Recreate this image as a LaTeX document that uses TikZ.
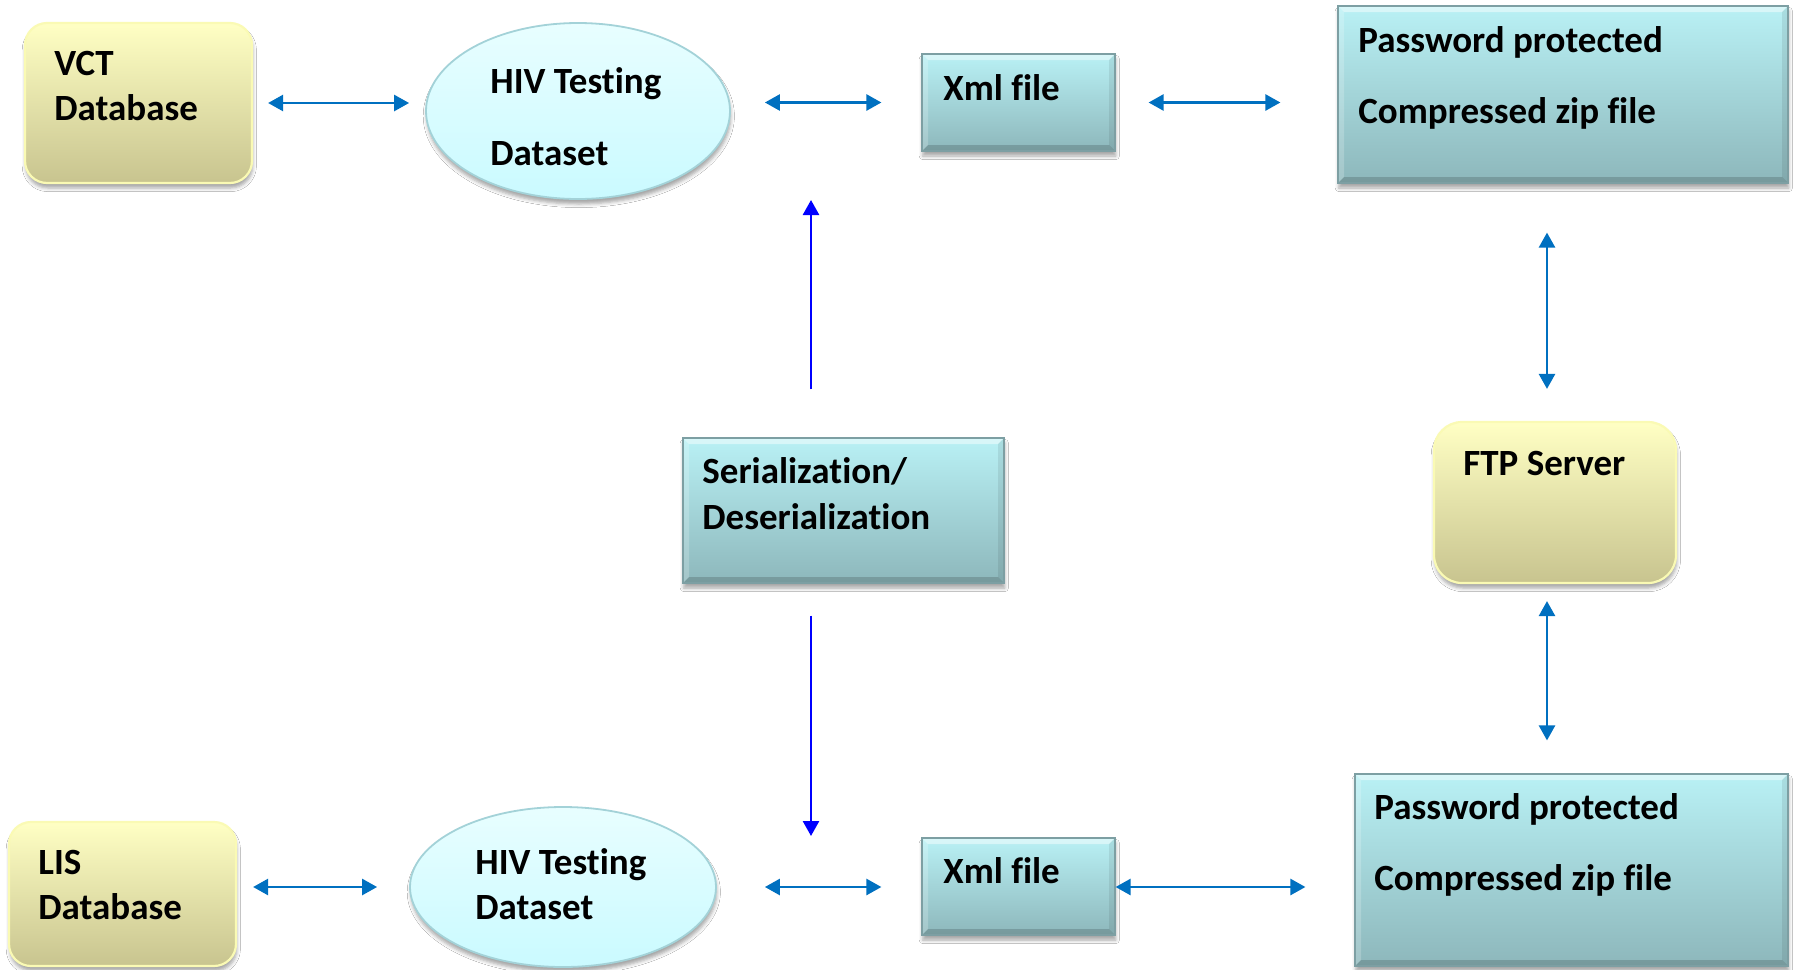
\documentclass[tikz,border=0pt]{standalone}
\usepackage{fontspec}
\setmainfont[Ligatures=NoCommon]{Carlito}
\usetikzlibrary{arrows.meta,shapes.geometric,shadows.blur}

\definecolor{tealtop}{HTML}{B9F1F5}
\definecolor{tealbot}{HTML}{8DB7BB}
\definecolor{tealedge}{HTML}{7D9FA3}
\definecolor{celltop}{HTML}{E8FEFF}
\definecolor{cellbot}{HTML}{CAFAFF}
\definecolor{celledge}{HTML}{A3D2D8}
\definecolor{sandtop}{HTML}{FFFFC4}
\definecolor{sandbot}{HTML}{C8C48F}
\definecolor{sandedge}{HTML}{FAFAB4}
\definecolor{linkblue}{HTML}{0070C0}
\definecolor{pureblue}{HTML}{0000FF}

\begin{document}
\begin{tikzpicture}[x=0.5pt,y=-0.5pt,
  lbl/.style={anchor=base west, inner sep=0pt,
    font=\fontsize{18.5}{22}\selectfont\bfseries},
  softshadow/.style={blur shadow={shadow xshift=0.4pt, shadow yshift=-2.5pt,
    shadow blur radius=1.8pt, shadow opacity=35}},
  bevel/.style={path picture={
    \fill[white,opacity=0.45] (path picture bounding box.north west)
      -- (path picture bounding box.north east)
      -- ([xshift=-#1,yshift=-#1]path picture bounding box.north east)
      -- ([xshift=#1,yshift=-#1]path picture bounding box.north west) -- cycle;
    \fill[white,opacity=0.2] (path picture bounding box.north west)
      -- ([xshift=#1,yshift=-#1]path picture bounding box.north west)
      -- ([xshift=#1,yshift=#1]path picture bounding box.south west)
      -- (path picture bounding box.south west) -- cycle;
    \fill[black,opacity=0.08] (path picture bounding box.north east)
      -- ([xshift=-#1,yshift=-#1]path picture bounding box.north east)
      -- ([xshift=-#1,yshift=#1]path picture bounding box.south east)
      -- (path picture bounding box.south east) -- cycle;
    \fill[black,opacity=0.16] (path picture bounding box.south west)
      -- ([xshift=#1,yshift=#1]path picture bounding box.south west)
      -- ([xshift=-#1,yshift=#1]path picture bounding box.south east)
      -- (path picture bounding box.south east) -- cycle;}},
  tealbox/.style={rectangle, inner sep=0pt, top color=tealtop,
    bottom color=tealbot, draw=tealedge, line width=0.6pt, softshadow,
    bevel=3pt},
  cell/.style={ellipse, inner sep=0pt, top color=celltop,
    bottom color=cellbot, draw=celledge, line width=0.9pt, softshadow},
  sandbox/.style={rectangle, rounded corners=11pt, inner sep=0pt,
    top color=sandtop, bottom color=sandbot, draw=sandedge,
    line width=1.1pt, softshadow},
  biarrow/.style={draw=linkblue, line width=1.3pt,
    {Triangle[length=7.5pt,width=8pt]}-{Triangle[length=7.5pt,width=8pt]}},
  uniarrow/.style={draw=pureblue, line width=1.3pt,
    -{Triangle[length=7.5pt,width=8pt]}}
]
% canvas
\fill[white] (0,0) rectangle (1796,970);
\useasboundingbox (0,0) rectangle (1796,970);

% upper row
\node[sandbox, minimum width=113.5pt, minimum height=80pt] (vct) at (138.5,103) {};
\node[cell, minimum width=152pt, minimum height=88pt] (hiv1) at (578,111) {};
\node[tealbox, minimum width=96.5pt, minimum height=48.5pt] (xml1) at (1018.5,102.5) {};
\node[tealbox, minimum width=225pt, minimum height=88.5pt] (pw1) at (1563,94.5) {};

% middle row
\node[tealbox, minimum width=160.5pt, minimum height=72.5pt] (ser) at (843.5,510.5) {};
\node[sandbox, rounded corners=14pt, minimum width=121pt, minimum height=80.5pt] (ftp) at (1555,502.5) {};

% lower row
\node[sandbox, minimum width=113.5pt, minimum height=72pt] (lis) at (122.5,894) {};
\node[cell, minimum width=153pt, minimum height=80pt] (hiv2) at (563,887) {};
\node[tealbox, minimum width=96.5pt, minimum height=48.5pt] (xml2) at (1018.5,886.5) {};
\node[tealbox, minimum width=216.5pt, minimum height=96pt] (pw2) at (1571.5,870) {};

% labels
\node[lbl] (vct-a) at (54,75) {VCT};
\node[lbl] (vct-b) at (54,120) {Database};
\node[lbl] (hiv1-a) at (490,93) {HIV Testing};
\node[lbl] (hiv1-b) at (490,165) {Dataset};
\node[lbl] (xml1-a) at (943,100) {Xml file};
\node[lbl] (pw1-a) at (1358,52) {Password protected};
\node[lbl] (pw1-b) at (1358,123) {Compressed zip file};
\node[lbl] (ser-a) at (702,483) {Serialization/};
\node[lbl] (ser-b) at (702,529) {Deserialization};
\node[lbl] (ftp-a) at (1463,475) {FTP Server};
\node[lbl] (lis-a) at (38,874) {LIS};
\node[lbl] (lis-b) at (38,919) {Database};
\node[lbl] (hiv2-a) at (475,874) {HIV Testing};
\node[lbl] (hiv2-b) at (475,919) {Dataset};
\node[lbl] (xml2-a) at (943,883) {Xml file};
\node[lbl] (pw2-a) at (1374,819) {Password protected};
\node[lbl] (pw2-b) at (1374,890) {Compressed zip file};

% two-way links, upper row
\draw[biarrow, shorten <=7.5pt, shorten >=8pt] (vct.east) -- (vct.east -| hiv1.west);
\draw[biarrow, shorten <=17pt, shorten >=20pt] (xml1.west -| hiv1.east) -- (xml1.west);
\draw[biarrow, shorten <=16.5pt, shorten >=28.5pt] (xml1.east) -- (xml1.east -| pw1.west);

% two-way links, lower row
\draw[biarrow, shorten <=8pt, shorten >=16pt] (hiv2.west -| lis.east) -- (hiv2.west);
\draw[biarrow, shorten <=24pt, shorten >=20pt] (hiv2.east) -- (hiv2.east -| xml2.west);
\draw[biarrow, shorten <=0pt, shorten >=24.5pt] (hiv2.east -| xml2.east) -- (hiv2.east -| pw2.west);

% two-way links through the FTP server
\coordinate (ftpline) at (1547,502);
\draw[biarrow, shorten <=24.5pt, shorten >=16pt] (ftpline |- pw1.south) -- (ftpline |- ftp.north);
\draw[biarrow, shorten <=8.5pt, shorten >=16.5pt] (ftpline |- ftp.south) -- (ftpline |- pw2.north);

% serialization outputs
\coordinate (uptip) at (811,200);
\coordinate (downtip) at (811,836);
\draw[uniarrow, shorten <=24pt] (ser.north -| uptip) -- (uptip);
\draw[uniarrow, shorten <=16pt] (ser.south -| downtip) -- (downtip);
\end{tikzpicture}
\end{document}
